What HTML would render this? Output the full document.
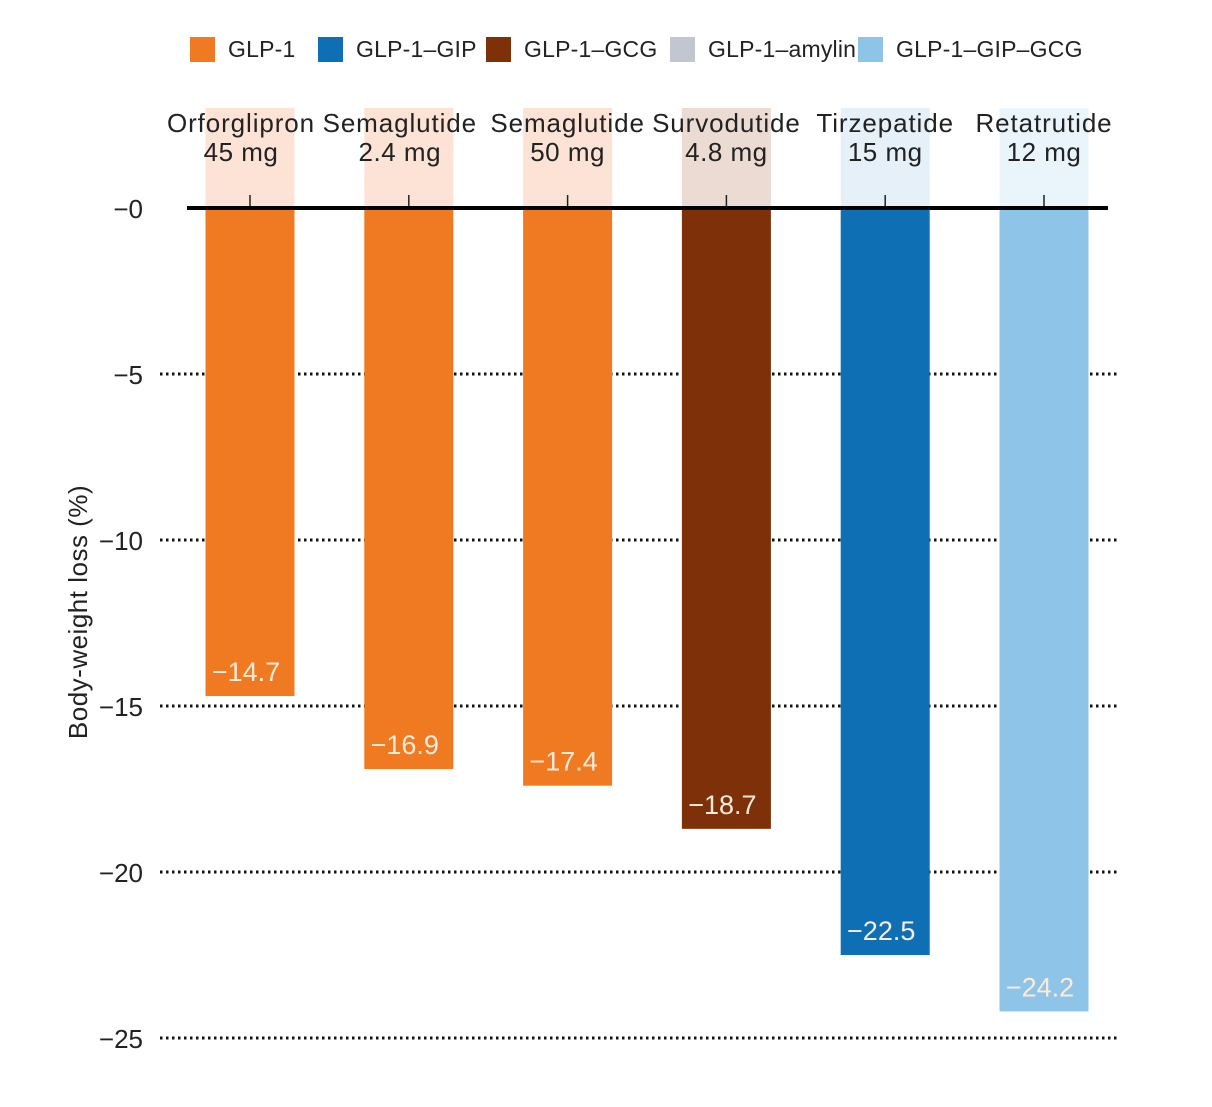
<!DOCTYPE html>
<html><head><meta charset="utf-8">
<style>
body{margin:0;background:#fff;font-family:"Liberation Sans",sans-serif;}
svg text{font-family:"Liberation Sans",sans-serif;}
</style></head>
<body>
<svg id="chart" width="1212" height="1102" viewBox="0 0 1212 1102" xmlns="http://www.w3.org/2000/svg">
<g id="legend"></g>
<g id="grid"></g>
<g id="bars"></g>
<g id="yaxis"></g>
<text transform="translate(87,612) rotate(-90)" text-anchor="middle" font-size="26" letter-spacing="0.5" fill="#222">Body-weight loss (%)</text>
</svg>
<script>
const names = ["Orforglipron","Semaglutide","Semaglutide","Survodutide","Tirzepatide","Retatrutide"];
const doses = ["45 mg","2.4 mg","50 mg","4.8 mg","15 mg","12 mg"];
const values = [-14.7,-16.9,-17.4,-18.7,-22.5,-24.2];
const classes = [0,0,0,2,1,4];
const legendLabels = ["GLP-1","GLP-1–GIP","GLP-1–GCG","GLP-1–amylin","GLP-1–GIP–GCG"];
const yTicks = [0,-5,-10,-15,-20,-25];
const yTickLabels = ["−0","−5","−10","−15","−20","−25"];

const colors = ["#F07A22","#0E6FB5","#7E3108","#C2C6D0","#8DC4E8"];
const pales = ["#FCE3D5","#E6F0F8","#EBDBD3","#EEEFF2","#EAF4FB"];
const NS="http://www.w3.org/2000/svg";
function mk(tag,attrs,parent,text){const e=document.createElementNS(NS,tag);for(const k in attrs)e.setAttribute(k,attrs[k]);if(text!==undefined)e.textContent=text;parent.appendChild(e);return e;}
function y(v){return 208+(-v)*33.2;}
function xc(i){return 250+i*158.8;}
function lblOff(i){return i<2?-9:0;}
const bw=89;

const lg=document.getElementById('legend');
const lx=[190,318,486,670,858];
legendLabels.forEach((l,i)=>{
  const r=mk('rect',{x:lx[i],y:37,width:25,height:25,fill:colors[i]},lg);
  
  
  const t=mk('text',{x:lx[i]+38,y:57,'font-size':23,'letter-spacing':0.2,fill:'#222'},lg,l);
  
  
});

const gr=document.getElementById('grid');
yTicks.forEach((v,i)=>{
  if(v!==0){
    const ln=mk('line',{x1:160,x2:1117,y1:y(v),y2:y(v),stroke:'#111','stroke-width':3,'stroke-dasharray':'2.5 3.5'},gr);
    
    
  }
});

const bg=document.getElementById('bars');
values.forEach((v,i)=>{
  const c=xc(i);
  const p=mk('rect',{x:c-bw/2,y:108,width:bw,height:y(0)-108,fill:pales[classes[i]]},bg);
  
  
  const t1=mk('text',{x:c+lblOff(i),y:132,'text-anchor':'middle','font-size':26,'letter-spacing':0.9,fill:'#222'},bg,names[i]);
  
  
  const t2=mk('text',{x:c+lblOff(i),y:161,'text-anchor':'middle','font-size':26,'letter-spacing':0.5,fill:'#222'},bg,doses[i]);
  
  
  const tk=mk('line',{x1:c,x2:c,y1:195,y2:208,stroke:'#222','stroke-width':1.5},bg);
  
  
  const b=mk('rect',{x:c-bw/2,y:y(0),width:bw,height:y(v)-y(0),fill:colors[classes[i]]},bg);
  
  
  const vl=mk('text',{x:c-4,y:y(v)-15,'text-anchor':'middle','font-size':27,fill:'#FCEBDC'},bg,'−'+Math.abs(v).toFixed(1));
  
  
});

const ya=document.getElementById('yaxis');
const zl=mk('line',{x1:187,x2:1108,y1:y(0),y2:y(0),stroke:'#000','stroke-width':4},ya);


yTicks.forEach((v,i)=>{
  const t=mk('text',{x:143,y:y(v)+10,'text-anchor':'end','font-size':26,fill:'#222'},ya,yTickLabels[i]);
  
  
});
</script>
</body></html>
